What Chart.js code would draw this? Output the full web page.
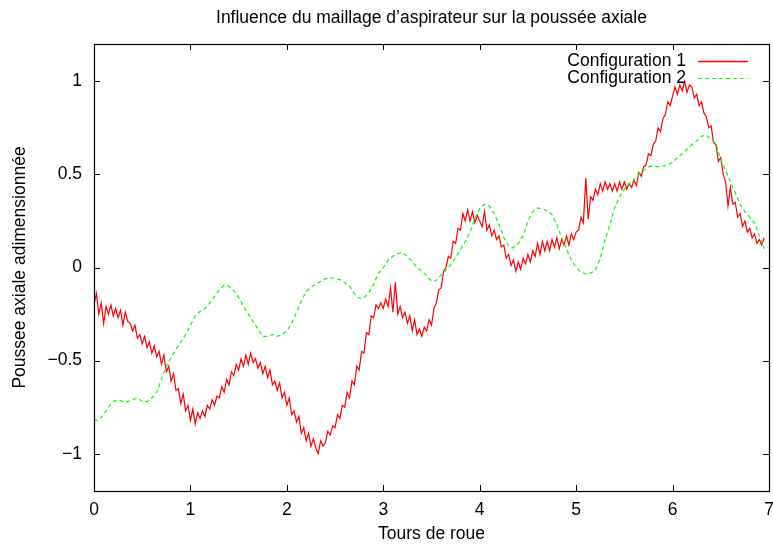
<!DOCTYPE html>
<html>
<head>
<meta charset="utf-8">
<script src="https://cdn.jsdelivr.net/npm/chart.js@4.4.1/dist/chart.umd.min.js"></script>
<style>
  html, body { margin: 0; padding: 0; background: #fff; }
  #wrap { width: 773px; height: 549px; position: relative; }
</style>
</head>
<body>
<div id="wrap"><canvas id="c" width="773" height="549"></canvas></div>
<script>
const chartTitle = "Influence du maillage d\u2019aspirateur sur la pouss\u00e9e axiale";
const xTitle = "Tours de roue";
const yTitle = "Poussee axiale adimensionn\u00e9e";
const seriesNames = ["Configuration 1", "Configuration 2"];
const xTicks = [0, 1, 2, 3, 4, 5, 6, 7];
const yTicks = [-1, -0.5, 0, 0.5, 1];

// Configuration 1: sampled every 0.025 tours, starting at 0
const redStep = 0.025;
const config1 = [
-0.20,-0.14,-0.25,-0.19,
-0.30,-0.21,-0.25,-0.20,
-0.26,-0.22,-0.27,-0.23,
-0.31,-0.24,-0.29,-0.30,
-0.34,-0.31,-0.38,-0.36,
-0.41,-0.37,-0.43,-0.40,
-0.46,-0.42,-0.48,-0.45,
-0.52,-0.47,-0.56,-0.53,
-0.61,-0.57,-0.66,-0.65,
-0.73,-0.68,-0.77,-0.74,
-0.82,-0.76,-0.84,-0.78,
-0.81,-0.77,-0.80,-0.74,
-0.76,-0.71,-0.74,-0.69,
-0.70,-0.64,-0.67,-0.60,
-0.63,-0.56,-0.58,-0.52,
-0.55,-0.49,-0.53,-0.47,
-0.52,-0.46,-0.51,-0.49,
-0.54,-0.51,-0.57,-0.53,
-0.59,-0.55,-0.63,-0.61,
-0.66,-0.62,-0.70,-0.67,
-0.74,-0.70,-0.79,-0.77,
-0.83,-0.80,-0.89,-0.86,
-0.93,-0.89,-0.96,-0.92,
-0.97,-1.00,-0.93,-0.96,
-0.94,-0.88,-0.90,-0.85,
-0.86,-0.79,-0.81,-0.74,
-0.75,-0.67,-0.70,-0.61,
-0.63,-0.53,-0.55,-0.45,
-0.46,-0.35,-0.36,-0.26,
-0.27,-0.20,-0.22,-0.19,
-0.22,-0.17,-0.21,-0.11,
-0.24,-0.08,-0.25,-0.21,
-0.27,-0.24,-0.30,-0.26,
-0.34,-0.28,-0.36,-0.33,
-0.37,-0.32,-0.34,-0.28,
-0.31,-0.22,-0.19,-0.12,
-0.11,-0.02,0.00,0.06,
0.05,0.14,0.13,0.21,
0.20,0.29,0.25,0.31,
0.25,0.30,0.24,0.28,
0.25,0.22,0.30,0.20,
0.23,0.17,0.20,0.15,
0.17,0.11,0.12,0.05,
0.07,0.01,0.04,-0.02,
0.03,-0.01,0.05,0.02,
0.07,0.03,0.09,0.06,
0.13,0.07,0.14,0.09,
0.14,0.09,0.15,0.11,
0.16,0.10,0.15,0.12,
0.17,0.12,0.18,0.15,
0.19,0.20,0.27,0.24,
0.48,0.26,0.38,0.36,
0.42,0.39,0.45,0.41,
0.46,0.42,0.45,0.41,
0.45,0.41,0.46,0.42,
0.46,0.42,0.45,0.43,
0.47,0.44,0.51,0.49,
0.54,0.55,0.61,0.60,
0.66,0.68,0.75,0.73,
0.80,0.82,0.89,0.87,
0.92,0.97,0.93,0.98,
0.95,1.00,0.94,0.98,
0.97,0.91,0.93,0.87,
0.89,0.83,0.81,0.75,
0.76,0.67,0.66,0.57,
0.59,0.50,0.46,0.33,
0.43,0.34,0.35,0.27,
0.29,0.22,0.25,0.19,
0.21,0.16,0.18,0.13,
0.15,0.12,0.16
];

// Configuration 2: sampled every 0.05 tours, starting at 0
const greenStep = 0.05;
const config2 = [
-0.82,-0.82,-0.79,-0.75,-0.72,-0.71,-0.72,-0.72,-0.71,-0.70,
-0.72,-0.72,-0.70,-0.67,-0.60,-0.53,-0.48,-0.44,-0.40,-0.36,
-0.31,-0.26,-0.235,-0.22,-0.19,-0.155,-0.12,-0.095,-0.10,-0.125,
-0.16,-0.21,-0.25,-0.29,-0.33,-0.37,-0.37,-0.36,-0.37,-0.36,
-0.34,-0.30,-0.24,-0.18,-0.13,-0.105,-0.09,-0.075,-0.06,-0.055,
-0.06,-0.065,-0.08,-0.10,-0.14,-0.165,-0.163,-0.135,-0.09,-0.03,
0.00,0.04,0.06,0.075,0.08,0.06,0.03,0.00,-0.02,-0.045,
-0.075,-0.07,-0.04,-0.015,0.015,0.055,0.095,0.14,0.19,0.26,
0.32,0.34,0.33,0.29,0.23,0.16,0.115,0.105,0.13,0.17,
0.25,0.30,0.32,0.315,0.305,0.285,0.23,0.16,0.10,0.04,
0.00,-0.025,-0.034,-0.03,-0.015,0.05,0.15,0.23,0.32,0.38,
0.42,0.45,0.47,0.50,0.52,0.54,0.545,0.54,0.545,0.55,
0.565,0.59,0.61,0.635,0.66,0.68,0.705,0.71,0.69,0.665,
0.58,0.52,0.46,0.40,0.34,0.30,0.27,0.24,0.17,0.10
];

const FONT = "'Liberation Sans', Arial, Helvetica, sans-serif";
const FS = 17.5;
const RED = 'rgb(255,0,0)';
const GREEN = 'rgb(0,255,0)';

const pts1 = config1.map((v, i) => ({ x: +(i * redStep).toFixed(4), y: v }));
const pts2 = config2.map((v, i) => ({ x: +(i * greenStep).toFixed(4), y: v }));

const frame = {
  id: 'frame',
  afterDraw(chart) {
    const { ctx, chartArea: a, scales } = chart;
    const xs = scales.x, ys = scales.y;
    ctx.save();
    ctx.strokeStyle = '#000';
    ctx.lineWidth = 1;
    const tl = 6;
    ctx.beginPath();
    xTicks.forEach(t => {
      const px = Math.round(xs.getPixelForValue(t)) + 0.5;
      ctx.moveTo(px, a.bottom); ctx.lineTo(px, a.bottom - tl);
      ctx.moveTo(px, a.top); ctx.lineTo(px, a.top + tl);
    });
    yTicks.forEach(t => {
      const py = Math.round(ys.getPixelForValue(t)) + 0.5;
      ctx.moveTo(a.left, py); ctx.lineTo(a.left + tl, py);
      ctx.moveTo(a.right, py); ctx.lineTo(a.right - tl, py);
    });
    ctx.stroke();
    ctx.lineWidth = 1.2;
    ctx.strokeRect(Math.round(a.left) + 0.5, Math.round(a.top) + 0.5,
                   Math.round(a.right - a.left), Math.round(a.bottom - a.top));
    // title
    ctx.fillStyle = '#000';
    ctx.font = FS + 'px ' + FONT;
    ctx.textAlign = 'center';
    ctx.textBaseline = 'middle';
    ctx.fillText(chartTitle, (a.left + a.right) / 2, 18);
    // legend
    ctx.textAlign = 'right';
    const rows = [
      { name: seriesNames[0], color: RED, dash: [], y: 61, w: 1.6 },
      { name: seriesNames[1], color: GREEN, dash: [4, 3], y: 78, w: 1.2 }
    ];
    rows.forEach(r => {
      ctx.fillStyle = '#000';
      ctx.fillText(r.name, 686, r.y);
      ctx.strokeStyle = r.color;
      ctx.lineWidth = r.w;
      ctx.setLineDash(r.dash);
      ctx.beginPath();
      ctx.moveTo(698, r.y + 0.5); ctx.lineTo(748, r.y + 0.5);
      ctx.stroke();
    });
    ctx.setLineDash([]);
    ctx.restore();
  }
};

new Chart(document.getElementById('c'), {
  type: 'line',
  data: {
    datasets: [
      { label: seriesNames[0], data: pts1, borderColor: RED, borderWidth: 1.2,
        pointRadius: 0, tension: 0, fill: false, order: 1 },
      { label: seriesNames[1], data: pts2, borderColor: GREEN, borderWidth: 1.2,
        borderDash: [4, 3], pointRadius: 0, tension: 0, fill: false, order: 0 }
    ]
  },
  options: {
    responsive: false,
    animation: false,
    events: [],
    layout: { padding: { top: 44, right: 4, bottom: 0, left: 0 } },
    plugins: { legend: { display: false }, tooltip: { enabled: false }, title: { display: false } },
    scales: {
      x: {
        type: 'linear', min: 0, max: 7,
        afterBuildTicks: s => { s.ticks = xTicks.map(v => ({ value: v })); },
        afterFit: s => { s.height = 58; s.paddingLeft = 0; s.paddingRight = 0; },
        grid: { display: false, drawTicks: false },
        border: { display: false },
        ticks: { color: '#000', font: { family: FONT, size: FS }, padding: 9, maxRotation: 0,
                 callback: v => String(v) },
        title: { display: true, text: xTitle, color: '#000', font: { family: FONT, size: FS },
                 padding: { top: 0, bottom: 4 } }
      },
      y: {
        type: 'linear', min: -1.2, max: 1.2,
        afterBuildTicks: s => { s.ticks = yTicks.map(v => ({ value: v })); },
        afterFit: s => { s.width = 94; s.paddingTop = 0; s.paddingBottom = 0; },
        grid: { display: false, drawTicks: false },
        border: { display: false },
        ticks: { color: '#000', font: { family: FONT, size: FS }, padding: 12,
                 callback: v => (v < 0 ? '\u2212' + Math.abs(v) : String(v)) },
        title: { display: true, text: yTitle, color: '#000', font: { family: FONT, size: FS },
                 padding: { top: 10, bottom: 0 } }
      }
    }
  },
  plugins: [frame]
});
</script>
</body>
</html>
